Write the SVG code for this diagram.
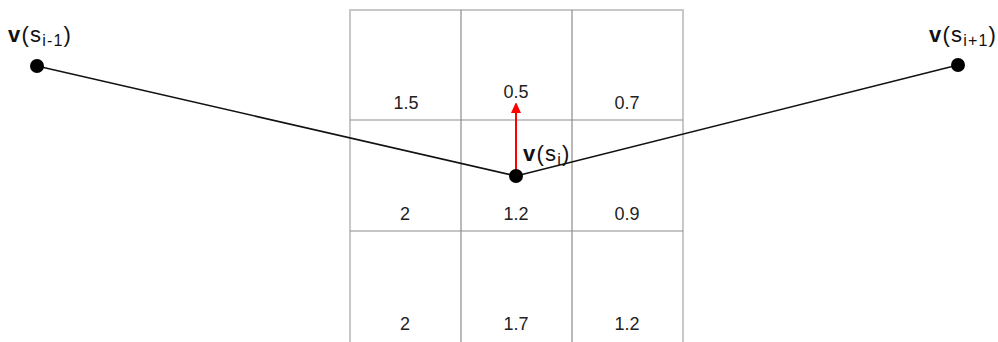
<svg xmlns="http://www.w3.org/2000/svg" width="998" height="342" viewBox="0 0 998 342">
<defs>
<style>
.num{font-family:"Liberation Sans",Arial,sans-serif;font-size:18px;fill:#222;text-anchor:middle}
.lbl{font-family:"Liberation Sans",Arial,sans-serif;font-size:22px;fill:#111;letter-spacing:1.2px}
.sub{font-size:16px}
.grid{stroke:#8c8c8c;stroke-width:1.2;fill:none}
.border{stroke:#c8c8c8;stroke-width:2;fill:none}
.edge{stroke:#111;stroke-width:1.6;fill:none}
.dot{fill:#000}
</style>
<marker id="ah" markerWidth="10" markerHeight="11" refX="4" refY="5" orient="auto" markerUnits="userSpaceOnUse">
<path d="M0,0 L11,5 L0,10 z" fill="#f00"/>
</marker>
</defs>
<rect width="998" height="342" fill="#fff"/>
<g id="grid">
<path class="border" d="M350,342 V10 H683 V342"/>
<line class="grid" x1="461" y1="10" x2="461" y2="342"/>
<line class="grid" x1="572" y1="10" x2="572" y2="342"/>
<line class="grid" x1="350" y1="120" x2="683" y2="120"/>
<line class="grid" x1="350" y1="231" x2="683" y2="231"/>
<text class="num" x="406" y="109">1.5</text>
<text class="num" x="516" y="98">0.5</text>
<text class="num" x="627" y="109">0.7</text>
<text class="num" x="405" y="220">2</text>
<text class="num" x="516" y="220">1.2</text>
<text class="num" x="627" y="220">0.9</text>
<text class="num" x="405" y="330">2</text>
<text class="num" x="516" y="330">1.7</text>
<text class="num" x="627" y="330">1.2</text>
</g>
<g id="connectors">
<line class="edge" x1="37" y1="66" x2="516" y2="176"/>
<line class="edge" x1="516" y1="176" x2="958" y2="65"/>
<line x1="516" y1="176" x2="516" y2="109" stroke="#f00" stroke-width="2" marker-end="url(#ah)"/>
</g>
<g id="node-prev">
<circle class="dot" cx="37" cy="66" r="7"/>
<text class="lbl" x="8" y="42"><tspan font-weight="bold">v</tspan>(s<tspan class="sub" dy="4">i-1</tspan><tspan dy="-4">)</tspan></text>
</g>
<g id="node-cur">
<circle class="dot" cx="516" cy="176" r="7"/>
<text class="lbl" x="523" y="161"><tspan font-weight="bold">v</tspan>(s<tspan class="sub" dy="4">i</tspan><tspan dy="-4">)</tspan></text>
</g>
<g id="node-next">
<circle class="dot" cx="958" cy="65" r="7"/>
<text class="lbl" x="929" y="42"><tspan font-weight="bold">v</tspan>(s<tspan class="sub" dy="4">i+1</tspan><tspan dy="-4">)</tspan></text>
</g>
</svg>
